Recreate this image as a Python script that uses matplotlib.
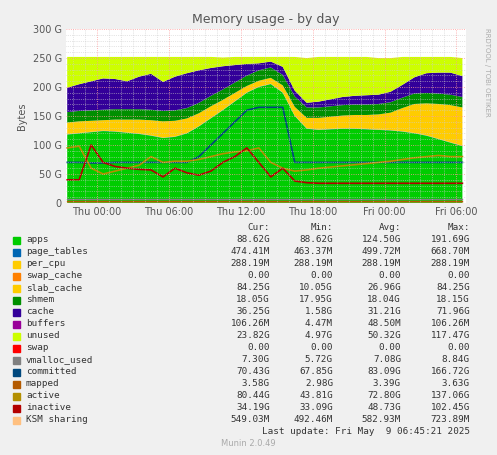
import numpy as np
import matplotlib
matplotlib.use("Agg")
import matplotlib.pyplot as plt
from matplotlib.ticker import MultipleLocator, FuncFormatter

# hours relative to Thu 00:00
hours = np.arange(-2.5, 31.0, 1.0)  # 34 points

apps = [118, 120, 122, 124, 123, 121, 119, 116, 112, 114, 120, 132, 146, 160, 175, 190, 200, 205,
        190, 150, 128, 126, 127, 128, 128, 127, 126, 125, 123, 120, 116, 110, 104, 98]
slab_cache = [20, 20, 19, 18, 20, 22, 24, 26, 28, 27, 25, 22, 20, 17, 14, 11, 10, 10,
              12, 15, 18, 20, 21, 22, 23, 24, 26, 30, 40, 50, 55, 60, 64, 66]
shmem = [18] * 34
cache = [42, 46, 50, 54, 52, 48, 56, 62, 50, 58, 60, 56, 48, 40, 30, 20, 12, 10,
         14, 10, 8, 10, 12, 14, 15, 16, 16, 18, 22, 28, 34, 36, 38, 36]
page_tables = [0.47] * 34
per_cpu = [0.29] * 34
buffers = [0.1] * 34
unused = [53, 47, 42, 37, 38, 42, 34, 29, 43, 34, 28, 23, 19, 15, 14, 12, 11, 8,
          17, 58, 77, 77, 73, 69, 67, 66, 63, 58, 48, 35, 28, 27, 27, 31]

committed = [70, 70, 69, 69, 70, 70, 70, 70, 70, 70, 70, 80, 100, 120, 140, 160, 165, 165,
             165, 70, 70, 70, 70, 70, 70, 70, 70, 70, 70, 70, 70, 70, 70, 70]
active = [95, 98, 60, 50, 55, 60, 65, 80, 70, 72, 72, 75, 80, 85, 88, 90, 95, 70,
          60, 55, 57, 60, 62, 64, 66, 68, 70, 72, 75, 78, 80, 82, 80, 80]
inactive = [40, 40, 100, 70, 63, 60, 58, 57, 45, 60, 52, 48, 55, 70, 80, 95, 70, 45,
            60, 38, 35, 34, 34, 34, 34, 34, 34, 34, 34, 34, 34, 34, 34, 34]
vmalloc_used = [7.2] * 34
mapped = [3.4] * 34
ksm = [0.55] * 34

names = ["apps", "page_tables", "per_cpu", "swap_cache", "slab_cache", "shmem", "cache",
         "buffers", "unused", "swap", "vmalloc_used", "committed", "mapped", "active",
         "inactive", "KSM sharing"]
colors = ["#00CC00", "#0066B3", "#FFCC00", "#FF8000", "#FFCC00", "#008F00", "#330099",
          "#990099", "#CCFF00", "#FF0000", "#808080", "#00487D", "#B35A00", "#B38F00",
          "#B30000", "#FFC080"]
cur = ["88.62G", "474.41M", "288.19M", "0.00", "84.25G", "18.05G", "36.25G", "106.26M",
       "23.82G", "0.00", "7.30G", "70.43G", "3.58G", "80.44G", "34.19G", "549.03M"]
mn = ["88.62G", "463.37M", "288.19M", "0.00", "10.05G", "17.95G", "1.58G", "4.47M",
      "4.97G", "0.00", "5.72G", "67.85G", "2.98G", "43.81G", "33.09G", "492.46M"]
avg = ["124.50G", "499.72M", "288.19M", "0.00", "26.96G", "18.04G", "31.21G", "48.50M",
       "50.32G", "0.00", "7.08G", "83.09G", "3.39G", "72.80G", "48.73G", "582.93M"]
mx = ["191.69G", "668.70M", "288.19M", "0.00", "84.25G", "18.15G", "71.96G", "106.26M",
      "117.47G", "0.00", "8.84G", "166.72G", "3.63G", "137.06G", "102.45G", "723.89M"]

fig = plt.figure(figsize=(4.97, 4.55), dpi=100, facecolor="#F0F0F0")
ax = fig.add_axes([66 / 497, 1 - 203 / 455, 400 / 497, 174 / 455])
ax.set_facecolor("white")

zeros = [0.0] * 34
stack = [apps, page_tables, per_cpu, zeros, slab_cache, shmem, cache, buffers, unused]
ax.stackplot(hours, *stack, colors=colors[:9], linewidth=0)
ax.plot(hours, zeros, color=colors[9], lw=1)
ax.plot(hours, vmalloc_used, color=colors[10], lw=1)
ax.plot(hours, committed, color=colors[11], lw=1.2)
ax.plot(hours, mapped, color=colors[12], lw=1)
ax.plot(hours, active, color=colors[13], lw=1.2)
ax.plot(hours, inactive, color=colors[14], lw=1.2)
ax.plot(hours, ksm, color=colors[15], lw=1)

ax.set_xlim(-2.6, 30.8)
ax.set_ylim(0, 300)
ax.yaxis.set_major_locator(MultipleLocator(50))
ax.yaxis.set_minor_locator(MultipleLocator(10))
ax.yaxis.set_major_formatter(FuncFormatter(lambda v, p: "0" if v == 0 else "%d G" % v))
ax.xaxis.set_major_locator(MultipleLocator(6))
ax.xaxis.set_minor_locator(MultipleLocator(1))
labels = {0: "Thu 00:00", 6: "Thu 06:00", 12: "Thu 12:00", 18: "Thu 18:00",
          24: "Fri 00:00", 30: "Fri 06:00"}
ax.xaxis.set_major_formatter(FuncFormatter(lambda v, p: labels.get(int(round(v)), "")))
ax.grid(which="major", color="#FF9999", ls=":", lw=0.6)
ax.grid(which="minor", color="#CCCCCC", ls=":", lw=0.5)
ax.set_axisbelow(False)
ax.tick_params(which="both", length=0, labelsize=7, colors="#555555", pad=3)
for s in ax.spines.values():
    s.set_visible(False)
ax.set_ylabel("Bytes", fontsize=7, color="#555555")
ax.set_title("Memory usage - by day", fontsize=9, color="#555555", pad=4)
fig.text(487 / 497, 1 - 28 / 455, "RRDTOOL / TOBI OETIKER", rotation=270, fontsize=5,
         color="#AAAAAA", va="top", ha="center")

mono = dict(family="DejaVu Sans Mono", fontsize=6.7, color="#333333", va="center")
y0 = 227
for txt, x in [("Cur:", 270), ("Min:", 333), ("Avg:", 401), ("Max:", 470)]:
    fig.text(x / 497, 1 - y0 / 455, txt, ha="right", **mono)
for i, n in enumerate(names):
    y = 240 + i * 12.0
    fig.patches.append(plt.Rectangle((13 / 497, 1 - (y + 3.5) / 455), 7 / 497, 7 / 455,
                                     transform=fig.transFigure, color=colors[i]))
    fig.text(26 / 497, 1 - y / 455, n, ha="left", **mono)
    for v, x in [(cur[i], 270), (mn[i], 333), (avg[i], 401), (mx[i], 470)]:
        fig.text(x / 497, 1 - y / 455, v, ha="right", **mono)
fig.text(470 / 497, 1 - 432 / 455, "Last update: Fri May  9 06:45:21 2025", ha="right", **mono)
fig.text(0.5, 1 - 444 / 455, "Munin 2.0.49", ha="center", family="DejaVu Sans",
         fontsize=6, color="#AAAAAA", va="center")

fig.savefig("out.png", dpi=100, facecolor=fig.get_facecolor())
